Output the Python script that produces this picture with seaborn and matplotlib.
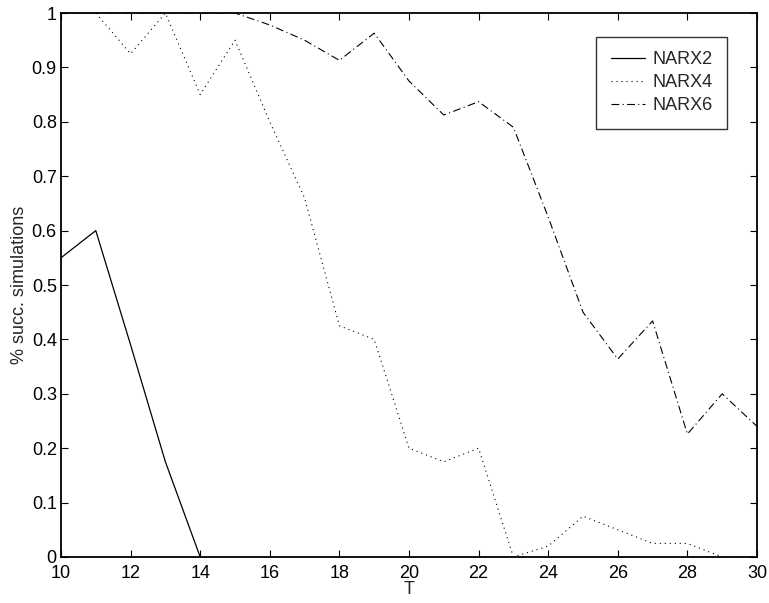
import matplotlib

matplotlib.use("Agg")

import matplotlib.pyplot as plt
import numpy as np
import pandas as pd
import seaborn as sns

t_narx2 = [10, 11, 12, 13, 14]
narx2 = [0.55, 0.60, 0.39, 0.175, 0.0]

t_all = list(range(10, 31))
narx4 = [1.0, 1.0, 0.925, 1.0, 0.85, 0.95, 0.80, 0.66, 0.425, 0.40, 0.20,
         0.175, 0.20, 0.0, 0.02, 0.075, 0.05, 0.025, 0.025, 0.0, 0.0]
narx6 = [1.0, 1.0, 1.0, 1.0, 1.0, 1.0, 0.978, 0.95, 0.913, 0.963, 0.875,
         0.8125, 0.837, 0.79, 0.625, 0.45, 0.364, 0.434, 0.226, 0.30, 0.24]

sns.set_theme(style="ticks")
plt.rcParams["font.family"] = ["Liberation Sans", "DejaVu Sans"]

fig = plt.figure(figsize=(7.69, 6.03), dpi=100)
ax = fig.add_axes([0.0793, 0.0763, 0.9051, 0.9021])

sns.lineplot(x=t_narx2, y=narx2, ax=ax, color="black", lw=0.9,
             linestyle="-", label="NARX2")
sns.lineplot(x=t_all, y=narx4, ax=ax, color="black", lw=0.8,
             linestyle=(0, (1, 3.5)), label="NARX4")
sns.lineplot(x=t_all, y=narx6, ax=ax, color="black", lw=0.8,
             linestyle=(0, (7, 3, 1, 3)), label="NARX6")

ax.set_xlim(10, 30)
ax.set_ylim(0, 1)
ax.set_xticks(np.arange(10, 31, 2))
ax.set_yticks(np.arange(0, 1.01, 0.1))
ax.set_yticklabels(["0"] + [f"{v:.1f}" for v in np.arange(0.1, 0.95, 0.1)] + ["1"])
ax.tick_params(direction="in", length=5, width=0.8, labelsize=13,
               top=True, right=True, colors="black")
ax.tick_params(axis="x", pad=6)
ax.tick_params(axis="y", pad=3)
for s in ax.spines.values():
    s.set_visible(True)
    s.set_linewidth(1.3)
    s.set_color("black")

ax.set_xlabel("T", fontsize=13, labelpad=-1)
ax.set_ylabel("% succ. simulations", fontsize=13, labelpad=3)

leg = ax.legend(loc="upper right", bbox_to_anchor=(0.957, 0.956), fontsize=13,
                frameon=True, fancybox=False, edgecolor="black",
                handlelength=1.9, borderpad=0.8, labelspacing=0.33,
                handletextpad=0.4, borderaxespad=0)
leg.get_frame().set_linewidth(1.0)

fig.savefig("out.png", dpi=100)
